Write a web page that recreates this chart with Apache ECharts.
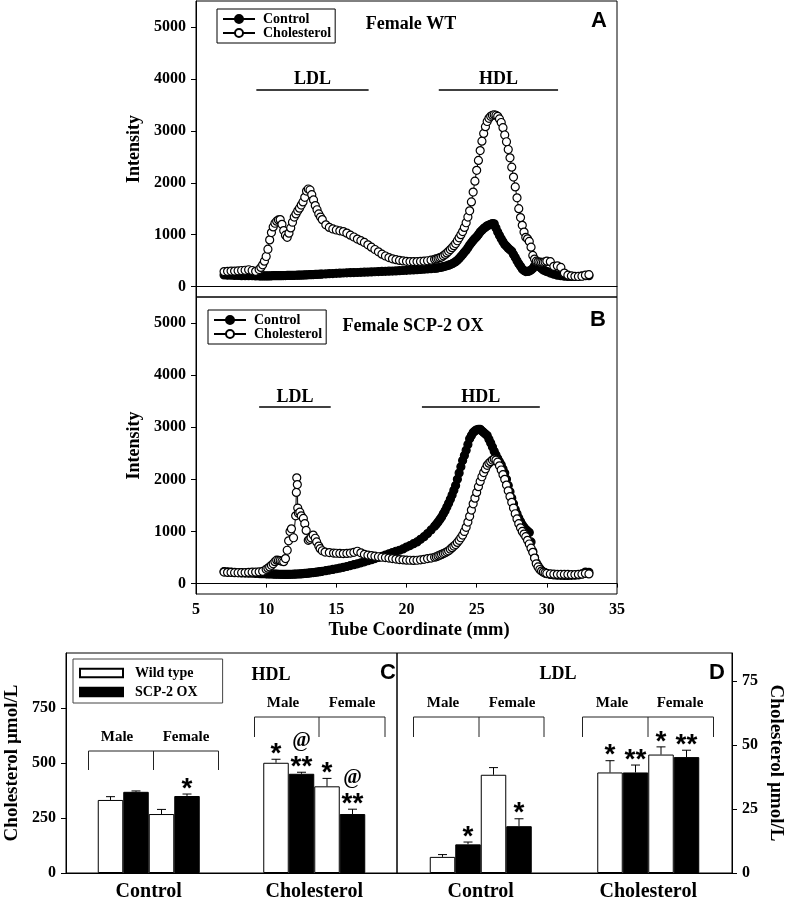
<!DOCTYPE html>
<html>
<head>
<meta charset="utf-8">
<title>Lipoprotein profiles</title>
<script src="https://cdn.jsdelivr.net/npm/echarts@6/dist/echarts.min.js"></script>
<style>
html, body { margin: 0; padding: 0; background: #fff; }
#main { width: 786px; height: 902px; }
</style>
</head>
<body>
<div id="main"></div>
<script>
// tube coordinate (mm) of each fraction; finer where the profiles are steep
var tube = [
    7, 7.25, 7.5, 7.75, 8, 8.25, 8.5, 8.75, 9, 9.25,
    9.5, 9.625, 9.75, 9.875, 10, 10.125, 10.25, 10.375, 10.5, 10.625, 10.75, 10.875,
    11, 11.125, 11.25, 11.375, 11.5, 11.625, 11.75, 11.875,
    12, 12.125, 12.25, 12.375, 12.5, 12.625, 12.75, 12.875,
    13, 13.125, 13.25, 13.375, 13.5, 13.625, 13.75, 13.875,
    14, 14.25, 14.5, 14.75, 15, 15.25, 15.5, 15.75,
    16, 16.25, 16.5, 16.75, 17, 17.25, 17.5, 17.75,
    18, 18.25, 18.5, 18.75, 19, 19.25, 19.5, 19.75,
    20, 20.25, 20.5, 20.75, 21, 21.25, 21.5, 21.75,
    22, 22.125, 22.25, 22.375, 22.5, 22.625, 22.75, 22.875,
    23, 23.125, 23.25, 23.375, 23.5, 23.625, 23.75, 23.875,
    24, 24.125, 24.25, 24.375, 24.5, 24.625, 24.75, 24.875,
    25, 25.125, 25.25, 25.375, 25.5, 25.625, 25.75, 25.875,
    26, 26.125, 26.25, 26.375, 26.5, 26.625, 26.75, 26.875,
    27, 27.125, 27.25, 27.375, 27.5, 27.625, 27.75, 27.875,
    28, 28.125, 28.25, 28.375, 28.5, 28.625, 28.75, 28.875,
    29, 29.125, 29.25, 29.375, 29.5, 29.625, 29.75, 29.875,
    30, 30.25, 30.5, 30.75, 31, 31.25, 31.5, 31.75, 32, 32.25, 32.5, 32.75, 33
];

// A: female WT
var aCtrl = [
    225, 220, 220, 215, 215, 210, 210, 210, 210, 205,
    205, 205, 205, 205, 205, 205, 205, 208, 210, 210, 210, 210,
    210, 211, 212, 213, 215, 215, 215, 216,
    218, 219, 220, 221, 222, 223, 225, 226,
    228, 229, 230, 232, 235, 236, 238, 240,
    242, 245, 250, 252, 255, 258, 262, 265,
    268, 270, 272, 275, 278, 280, 283, 286,
    290, 292, 295, 298, 300, 303, 306, 310,
    314, 318, 322, 326, 330, 335, 340, 345,
    352, 356, 362, 368, 375, 383, 392, 402,
    412, 425, 440, 458, 480, 508, 540, 578,
    620, 660, 700, 750, 800, 845, 890, 925,
    960, 1005, 1050, 1085, 1120, 1145, 1170, 1185,
    1200, 1215, 1210, 1130, 1050, 985, 920, 865,
    810, 775, 740, 710, 680, 620, 560, 500,
    440, 390, 340, 310, 290, 292, 300, 320,
    350, 400, 440, 410, 380, 350, 320, 305,
    290, 260, 240, 220, 210, 200, 195, 195, 195, 200, 205, 210, 210
];
var aChol = [
    290, 295, 300, 300, 305, 310, 315, 325, 310, 295,
    330, 370, 420, 490, 580, 720, 900, 1040, 1150, 1220, 1260, 1285,
    1290, 1200, 1080, 990, 950, 1030, 1130, 1240,
    1340, 1400, 1460, 1510, 1570, 1630, 1720, 1840,
    1880, 1860, 1770, 1670, 1560, 1480, 1400, 1340,
    1290, 1190, 1140, 1110, 1090, 1075, 1060, 1030,
    990, 955, 915, 885, 850, 805, 760, 715,
    670, 625, 590, 560, 535, 518, 505, 495,
    487, 483, 480, 482, 485, 490, 498, 510,
    525, 535, 545, 557, 570, 593, 620, 648,
    680, 713, 750, 788, 830, 883, 940, 1000,
    1060, 1140, 1230, 1340, 1460, 1630, 1820, 2030,
    2240, 2430, 2620, 2800, 2950, 3080, 3180, 3240,
    3280, 3300, 3310, 3300, 3280, 3230, 3160, 3060,
    2920, 2790, 2640, 2480, 2300, 2110, 1920, 1710,
    1500, 1330, 1180, 1050, 950, 920, 870, 760,
    600, 530, 490, 478, 470, 466, 465, 475,
    490, 480, 390, 400, 370, 260, 220, 205, 198, 195, 200, 220, 230
];

// B: female SCP-2 OX
var bCtrl = [
    230, 225, 220, 215, 210, 205, 202, 200, 198, 195,
    192, 191, 190, 189, 188, 186, 185, 184, 182, 181, 180, 179,
    178, 177, 176, 176, 176, 177, 178, 179,
    180, 182, 184, 186, 188, 191, 194, 197,
    200, 204, 208, 212, 216, 221, 226, 231,
    236, 248, 260, 272, 285, 298, 312, 328,
    345, 362, 380, 398, 418, 438, 458, 480,
    502, 524, 548, 572, 596, 620, 640, 665,
    700, 730, 765, 800, 850, 900, 960, 1030,
    1100, 1140, 1180, 1230, 1280, 1340, 1400, 1470,
    1540, 1620, 1700, 1790, 1880, 2000, 2120, 2240,
    2360, 2460, 2560, 2670, 2780, 2840, 2900, 2930,
    2950, 2960, 2960, 2930, 2900, 2870, 2840, 2770,
    2700, 2620, 2540, 2470, 2400, 2340, 2280, 2200,
    2120, 2000, 1880, 1760, 1640, 1530, 1420, 1340,
    1260, 1190, 1130, 1080, 1040, 1010, 980, 800,
    620, 500, 400, 340, 290, 250, 220, 205,
    190, 175, 165, 160, 158, 155, 155, 158, 160, 165, 185, 220, 215
];
var bTubeChol = [
    7, 7.25, 7.5, 7.75, 8, 8.25, 8.5, 8.75,
    9, 9.25, 9.5, 9.75, 10,
    10.125, 10.25, 10.375, 10.5, 10.625, 10.75, 10.875, 11,
    11.125, 11.25, 11.375, 11.5,
    11.6, 11.7, 11.8, 11.95,
    12.1, 12.15, 12.18, 12.22, 12.25, 12.3, 12.4, 12.5,
    12.65, 12.75, 12.85, 13,
    13.1, 13.2, 13.35, 13.5, 13.6, 13.75, 13.85, 14,
    14.2, 14.5, 14.8,
    15, 15.25, 15.5, 15.75, 16, 16.25, 16.5, 16.75,
    17, 17.25, 17.5, 17.75, 18, 18.25, 18.5, 18.75,
    19, 19.25, 19.5, 19.75, 20, 20.25, 20.5, 20.75,
    21, 21.25, 21.5, 21.75,
    22, 22.125, 22.25, 22.375, 22.5, 22.625, 22.75, 22.875,
    23, 23.125, 23.25, 23.375, 23.5, 23.625, 23.75, 23.875,
    24, 24.125, 24.25, 24.375, 24.5, 24.625, 24.75, 24.875,
    25, 25.125, 25.25, 25.375, 25.5, 25.625, 25.75, 25.875,
    26, 26.125, 26.25, 26.375, 26.5, 26.625, 26.75, 26.875,
    27, 27.125, 27.25, 27.375, 27.5, 27.625, 27.75, 27.875,
    28, 28.125, 28.25, 28.375, 28.5, 28.625, 28.75, 28.875,
    29, 29.125, 29.25, 29.375, 29.5, 29.625, 29.75, 29.875,
    30, 30.25, 30.5, 30.75, 31, 31.25, 31.5, 31.75, 32, 32.25, 32.5, 32.75, 33
];
var bChol = [
    220, 215, 215, 210, 208, 210, 212, 215,
    218, 220, 225, 235, 275,
    295, 320, 350, 380, 420, 450, 445, 440,
    430, 420, 480, 640,
    820, 1000, 1050, 880,
    1300, 1750, 2030, 1900, 1450, 1350, 1370, 1300,
    1250, 1150, 1020, 830,
    850, 880, 930, 870, 800, 720, 670, 630,
    605, 595, 585,
    582, 578, 575, 578, 585, 600, 620, 590,
    560, 545, 535, 525, 515, 505, 500, 490,
    480, 470, 460, 455, 450, 448, 445, 448,
    455, 465, 480, 490,
    505, 515, 530, 545, 560, 575, 590, 610,
    630, 660, 690, 720, 750, 790, 830, 880,
    930, 1000, 1080, 1180, 1290, 1410, 1530, 1640,
    1750, 1860, 1960, 2050, 2130, 2200, 2270, 2310,
    2340, 2370, 2390, 2370, 2330, 2260, 2180, 2090,
    2000, 1890, 1780, 1670, 1560, 1450, 1340, 1240,
    1150, 1070, 1000, 950, 900, 830, 760, 680,
    600, 490, 380, 320, 270, 240, 220, 205,
    195, 185, 180, 178, 175, 175, 175, 172, 172, 175, 180, 195, 185
];

var intensityTicks = [0, 1000, 2000, 3000, 4000, 5000];
// LDL / HDL fraction ranges (mm) and the height they are drawn at
var aLdlRange = [9.3, 17.3], aHdlRange = [22.3, 30.8], aBandY = 3800;
var bLdlRange = [9.5, 14.6], bHdlRange = [21.1, 29.5], bBandY = 3390;

// C and D: diet groups, bars in order WT male, OX male, WT female, OX female
var diets = ["Control", "Cholesterol"];
var hdlWtM = [332, 501], hdlOxM = [369, 451], hdlWtF = [268, 394], hdlOxF = [350, 268];
var hdlErrWtM = [15, 16], hdlErrOxM = [4, 7], hdlErrWtF = [21, 36], hdlErrOxF = [9, 22];
var hdlStarWtM = ["", "*"], hdlStarOxM = ["", "**"], hdlStarWtF = ["", "*"], hdlStarOxF = ["*", "**"];
var hdlAtWtM = ["", ""], hdlAtOxM = ["", "@"], hdlAtWtF = ["", ""], hdlAtOxF = ["", "@"];
var hdlTicks = [0, 250, 500, 750];

var ldlWtM = [6.3, 39.3], ldlOxM = [11.2, 39.3], ldlWtF = [38.4, 46.3], ldlOxF = [18.3, 45.3];
var ldlErrWtM = [0.9, 4.6], ldlErrOxM = [0.9, 2.9], ldlErrWtF = [2.8, 3.0], ldlErrOxF = [2.9, 2.7];
var ldlStarWtM = ["", "*"], ldlStarOxM = ["*", "**"], ldlStarWtF = ["", "*"], ldlStarOxF = ["*", "**"];
var ldlTicks = [0, 25, 50, 75];

var SERIF = '"Liberation Serif", "Times New Roman", serif';
var SANS = '"Liberation Sans", Arial, sans-serif';
var BAR_W = 25.5;

var chart = echarts.init(document.getElementById("main"));

function pairs(xs, ys) {
    return xs.map(function(x, i) { return [x, ys[i]]; });
}

function profile(name, xs, ys, idx, open) {
    return {
        type: "line",
        name: name,
        xAxisIndex: idx,
        yAxisIndex: idx,
        data: pairs(xs, ys),
        symbol: "circle",
        symbolSize: 8,
        showSymbol: true,
        silent: true,
        lineStyle: { color: "#000", width: 1 },
        itemStyle: { color: open ? "#fff" : "#000", borderColor: "#000", borderWidth: 1.2 }
    };
}

function bands(ldl, hdl, y) {
    return {
        symbol: ["none", "none"],
        silent: true,
        lineStyle: { color: "#000", width: 1.6, type: "solid" },
        label: {
            show: true, position: "middle", formatter: "{b}", distance: 1,
            fontFamily: SERIF, fontWeight: "bold", fontSize: 18, color: "#000"
        },
        data: [
            [{ name: "LDL", coord: [ldl[0], y] }, { coord: [ldl[1], y] }],
            [{ name: "HDL", coord: [hdl[0], y] }, { coord: [hdl[1], y] }]
        ]
    };
}

function bars(name, data, color, idx) {
    return {
        type: "bar",
        name: name,
        xAxisIndex: idx,
        yAxisIndex: idx,
        data: data,
        barWidth: BAR_W,
        barGap: "0%",
        silent: true,
        itemStyle: { color: color, borderColor: "#000", borderWidth: 1 }
    };
}

//误差线和显著性标记
function errorSeries(idx, vals, errs, stars, ats) {
    var items = [];
    for (var k = 0; k < vals.length; k++) {
        for (var c = 0; c < diets.length; c++) {
            items.push({ cat: c, k: k, v: vals[k][c], e: errs[k][c], star: stars[k][c], at: ats ? ats[k][c] : "" });
        }
    }
    return {
        type: "custom",
        xAxisIndex: idx,
        yAxisIndex: idx,
        z: 5,
        silent: true,
        data: items.map(function(d) { return [d.cat, d.v + d.e]; }),
        renderItem: function(params, api) {
            var it = items[params.dataIndex];
            var base = api.coord([it.cat, it.v]);
            var top = api.coord([it.cat, it.v + it.e]);
            var x = base[0] + (it.k - 1.5) * BAR_W;
            var children = [
                { type: "line", shape: { x1: x, y1: base[1], x2: x, y2: top[1] }, style: { stroke: "#000", lineWidth: 1 } },
                { type: "line", shape: { x1: x - 4.5, y1: top[1], x2: x + 4.5, y2: top[1] }, style: { stroke: "#000", lineWidth: 1 } }
            ];
            if (it.star) {
                children.push({ type: "text", style: {
                    text: it.star, x: x, y: top[1] - 5, textAlign: "center", textVerticalAlign: "middle",
                    font: "bold 28px " + SANS, fill: "#000" } });
            }
            if (it.at) {
                children.push({ type: "text", style: {
                    text: it.at, x: x, y: top[1] - 31, textAlign: "center", textVerticalAlign: "middle",
                    font: "bold 20px " + SERIF, fill: "#000" } });
            }
            return { type: "group", children: children };
        }
    };
}

function txt(s, x, y, size, family) {
    return {
        type: "text", silent: true,
        style: { text: s, x: x, y: y, textAlign: "center", textVerticalAlign: "middle",
                 font: "bold " + size + "px " + (family || SERIF), fill: "#000" }
    };
}

function bracket(x1, xm, x2, y1, y2) {
    var ls = { stroke: "#222", lineWidth: 1 };
    return [
        { type: "line", silent: true, shape: { x1: x1, y1: y1, x2: x2, y2: y1 }, style: ls },
        { type: "line", silent: true, shape: { x1: x1, y1: y1, x2: x1, y2: y2 }, style: ls },
        { type: "line", silent: true, shape: { x1: xm, y1: y1, x2: xm, y2: y2 }, style: ls },
        { type: "line", silent: true, shape: { x1: x2, y1: y1, x2: x2, y2: y2 }, style: ls }
    ];
}

var axisText = { fontFamily: SERIF, fontWeight: "bold", color: "#000" };
var blackLine = { lineStyle: { color: "#000", width: 1 } };

function plain(v) {
    return String(v);
}

function valueY(idx, min, max, ticks, extra) {
    var ax = {
        gridIndex: idx, type: "value", min: min, max: max,
        axisLine: { show: true, lineStyle: { color: "#000", width: 1 } },
        axisTick: { show: true, customValues: ticks, length: 5, lineStyle: { color: "#000" } },
        axisLabel: Object.assign({ customValues: ticks, formatter: plain, fontSize: 16, margin: 10 }, axisText),
        splitLine: { show: false },
        nameLocation: "middle",
        nameTextStyle: Object.assign({ fontSize: 18 }, axisText)
    };
    return Object.assign(ax, extra);
}

var legendText = { fontFamily: SERIF, fontWeight: "bold", fontSize: 14, color: "#000" };

var option = {
    animation: false,
    grid: [
        { left: 196, top: 1, width: 421, height: 296, show: true, borderColor: "#000", borderWidth: 1 },
        { left: 196, top: 297, width: 421, height: 297, show: true, borderColor: "#000", borderWidth: 1 },
        { left: 66, top: 653, width: 331, height: 224, show: true, borderColor: "#000", borderWidth: 1 },
        { left: 397, top: 653, width: 336, height: 224, show: true, borderColor: "#000", borderWidth: 1 }
    ],
    legend: [
        {
            data: ["Control", "Cholesterol"], orient: "vertical", left: 217, top: 9,
            padding: [3, 4, 3, 5], itemGap: 0, itemWidth: 32, itemHeight: 10,
            borderColor: "#000", borderWidth: 1, selectedMode: false,
            textStyle: Object.assign({ lineHeight: 14, padding: [0, 0, 0, 3] }, legendText)
        },
        {
            data: ["Control", "Cholesterol"], orient: "vertical", left: 208, top: 310,
            padding: [3, 4, 3, 5], itemGap: 0, itemWidth: 32, itemHeight: 10,
            borderColor: "#000", borderWidth: 1, selectedMode: false,
            textStyle: Object.assign({ lineHeight: 14, padding: [0, 0, 0, 3] }, legendText)
        },
        {
            data: ["Wild type", "SCP-2 OX"], orient: "vertical", left: 73, top: 659,
            padding: [6, 25, 3, 6], itemGap: 3, itemWidth: 43, itemHeight: 8.5, icon: "rect",
            borderColor: "#444", borderWidth: 1, selectedMode: false,
            textStyle: Object.assign({ lineHeight: 16, padding: [0, 0, 0, 7] }, legendText)
        }
    ],
    xAxis: [
        {
            gridIndex: 0, type: "value", min: 5, max: 35, interval: 5,
            axisLine: blackLine, axisTick: { show: false }, axisLabel: { show: false }, splitLine: { show: false }
        },
        {
            gridIndex: 1, type: "value", min: 5, max: 35, interval: 5,
            axisLine: blackLine, axisTick: { length: 4, lineStyle: { color: "#000" } },
            axisLabel: Object.assign({ fontSize: 16, margin: 8 }, axisText), splitLine: { show: false }
        },
        {
            gridIndex: 2, type: "category", data: diets,
            axisLine: blackLine, axisTick: { alignWithLabel: true, length: 6, lineStyle: { color: "#000" } },
            axisLabel: Object.assign({ fontSize: 20, margin: 9 }, axisText)
        },
        {
            gridIndex: 3, type: "category", data: diets,
            axisLine: blackLine, axisTick: { alignWithLabel: true, length: 6, lineStyle: { color: "#000" } },
            axisLabel: Object.assign({ fontSize: 20, margin: 9 }, axisText)
        }
    ],
    yAxis: [
        valueY(0, -200, 5500, intensityTicks, { name: "Intensity", nameGap: 50 }),
        valueY(1, -200, 5500, intensityTicks, { name: "Intensity", nameGap: 50 }),
        valueY(2, 0, 1000, hdlTicks, { name: "Cholesterol µmol/L", nameGap: 44,
            nameTextStyle: Object.assign({ fontSize: 19 }, axisText) }),
        valueY(3, 0, 86, ldlTicks, { position: "right", name: "Cholesterol µmol/L", nameGap: 34, nameRotate: -90,
            nameTextStyle: Object.assign({ fontSize: 19 }, axisText) })
    ],
    graphic: {
        elements: [
            txt("Female WT", 411, 24, 18),
            txt("A", 599, 21, 22, SANS),
            txt("Female SCP-2 OX", 413, 326, 18),
            txt("B", 598, 320, 22, SANS),
            txt("Tube Coordinate (mm)", 419, 630, 18.5),
            txt("HDL", 271, 675, 18),
            txt("C", 388, 673, 22, SANS),
            txt("LDL", 558, 674, 18),
            txt("D", 717, 673, 22, SANS),
            txt("Male", 117, 737, 15), txt("Female", 186, 737, 15),
            txt("Male", 283, 703, 15), txt("Female", 352, 703, 15),
            txt("Male", 443, 703, 15), txt("Female", 512, 703, 15),
            txt("Male", 612, 703, 15), txt("Female", 680, 703, 15)
        ].concat(
            bracket(88.5, 153.5, 218.5, 751, 770),
            bracket(254.5, 319, 385, 717, 737),
            bracket(413.5, 479, 544, 717, 737),
            bracket(582.5, 648, 713.5, 717, 737)
        )
    },
    series: [
        Object.assign(profile("Control", tube, aCtrl, 0, false), { markLine: bands(aLdlRange, aHdlRange, aBandY) }),
        profile("Cholesterol", tube, aChol, 0, true),
        Object.assign(profile("Control", tube, bCtrl, 1, false), { markLine: bands(bLdlRange, bHdlRange, bBandY) }),
        profile("Cholesterol", bTubeChol, bChol, 1, true),

        bars("Wild type", hdlWtM, "#fff", 2),
        bars("SCP-2 OX", hdlOxM, "#000", 2),
        bars("Wild type", hdlWtF, "#fff", 2),
        bars("SCP-2 OX", hdlOxF, "#000", 2),
        errorSeries(2, [hdlWtM, hdlOxM, hdlWtF, hdlOxF], [hdlErrWtM, hdlErrOxM, hdlErrWtF, hdlErrOxF],
            [hdlStarWtM, hdlStarOxM, hdlStarWtF, hdlStarOxF], [hdlAtWtM, hdlAtOxM, hdlAtWtF, hdlAtOxF]),

        bars("Wild type", ldlWtM, "#fff", 3),
        bars("SCP-2 OX", ldlOxM, "#000", 3),
        bars("Wild type", ldlWtF, "#fff", 3),
        bars("SCP-2 OX", ldlOxF, "#000", 3),
        errorSeries(3, [ldlWtM, ldlOxM, ldlWtF, ldlOxF], [ldlErrWtM, ldlErrOxM, ldlErrWtF, ldlErrOxF],
            [ldlStarWtM, ldlStarOxM, ldlStarWtF, ldlStarOxF], null)
    ]
};

chart.setOption(option);

window.onresize = function() {
    chart.resize();
};
</script>
</body>
</html>
